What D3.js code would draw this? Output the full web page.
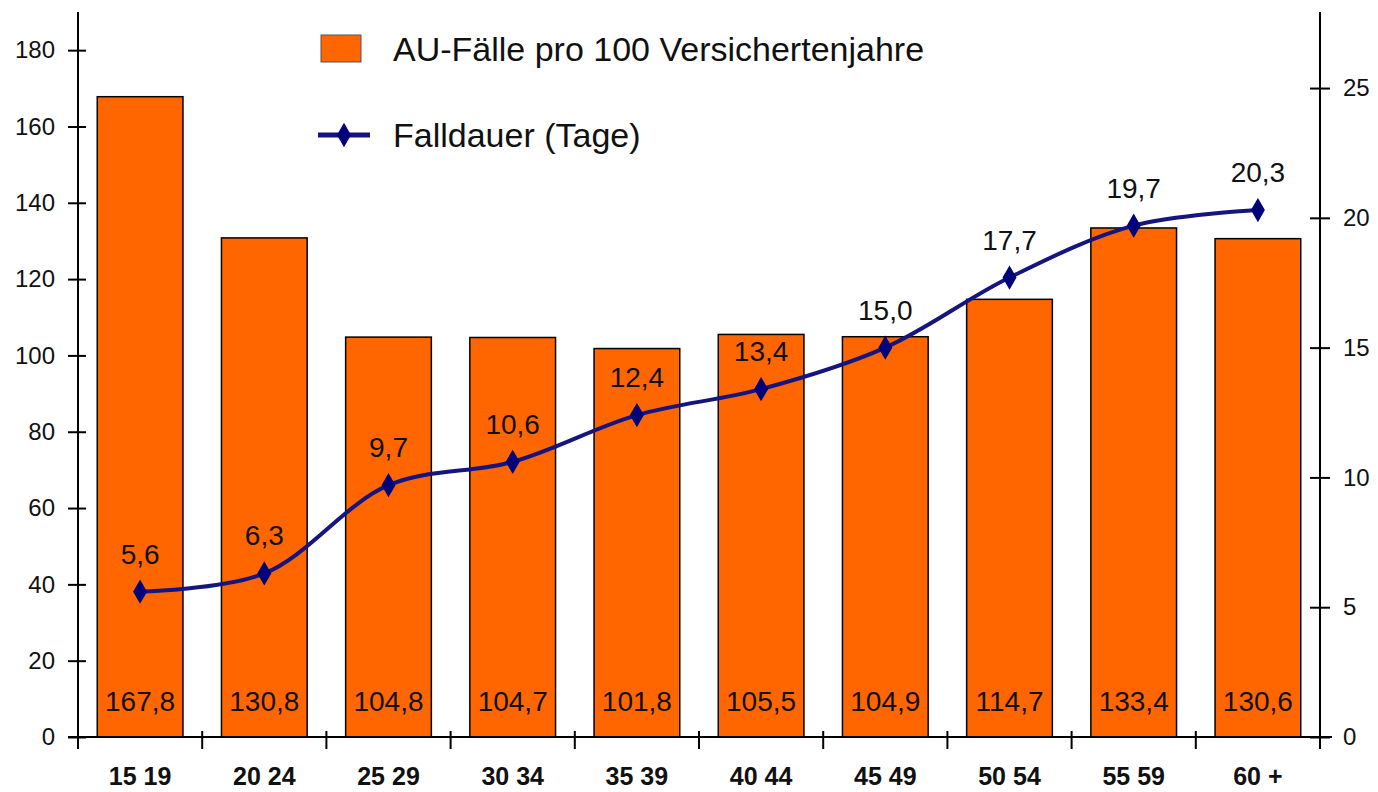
<!DOCTYPE html>
<html>
<head>
<meta charset="utf-8">
<script src="https://cdn.jsdelivr.net/npm/d3@7"></script>
<style>
  body { margin: 0; background: #fff; }
  text { font-family: "Liberation Sans", Arial, sans-serif; fill: #111; }
</style>
</head>
<body>
<div id="chart"></div>
<script>
var categories = ["15 19", "20 24", "25 29", "30 34", "35 39", "40 44", "45 49", "50 54", "55 59", "60 +"];
var cases = [167.8, 130.8, 104.8, 104.7, 101.8, 105.5, 104.9, 114.7, 133.4, 130.6];
var duration = [5.6, 6.3, 9.7, 10.6, 12.4, 13.4, 15.0, 17.7, 19.7, 20.3];
var leftTicks = [0, 20, 40, 60, 80, 100, 120, 140, 160, 180];
var rightTicks = [0, 5, 10, 15, 20, 25];
var legendBar = "AU-Fälle pro 100 Versichertenjahre";
var legendLine = "Falldauer (Tage)";

var fmt = function (v) { return d3.format(".1f")(v).replace(".", ","); };

var width = 1378, height = 792;
var plotLeft = 78, plotRight = 1320, plotTop = 12, plotBottom = 737;

var svg = d3.select("#chart").append("svg")
    .attr("width", width)
    .attr("height", height);

var x = d3.scaleBand()
    .domain(categories)
    .range([plotLeft, plotRight])
    .paddingInner(0.31)
    .paddingOuter(0.155);

var yL = d3.scaleLinear().domain([0, 190]).range([plotBottom, plotTop]);
var yR = d3.scaleLinear().domain([0, 27.93]).range([plotBottom, plotTop]);

// bars
svg.append("g")
    .selectAll("rect")
    .data(cases)
    .join("rect")
    .attr("x", function (d, i) { return x(categories[i]); })
    .attr("y", function (d) { return yL(d); })
    .attr("width", x.bandwidth())
    .attr("height", function (d) { return yL(0) - yL(d); })
    .attr("fill", "#ff6600")
    .attr("stroke", "#000")
    .attr("stroke-width", 1.5);

// bar value labels
svg.append("g")
    .selectAll("text")
    .data(cases)
    .join("text")
    .attr("x", function (d, i) { return x(categories[i]) + x.bandwidth() / 2; })
    .attr("y", yL(0) - 26)
    .attr("text-anchor", "middle")
    .style("font-size", "28px")
    .text(function (d) { return fmt(d); });

// left axis
var axL = svg.append("g")
    .attr("transform", "translate(" + plotLeft + ",0)")
    .call(d3.axisLeft(yL).tickValues(leftTicks).tickSize(0).tickPadding(23));
axL.select(".domain").remove();
axL.selectAll(".tick line").attr("x1", -10).attr("x2", 8).attr("stroke", "#000").attr("stroke-width", 2);
axL.selectAll(".tick text").style("font-size", "24px").attr("fill", "#111");
svg.append("line")
    .attr("x1", plotLeft).attr("x2", plotLeft)
    .attr("y1", plotTop).attr("y2", plotBottom + 10)
    .attr("stroke", "#000").attr("stroke-width", 2);

// right axis
var axR = svg.append("g")
    .attr("transform", "translate(" + plotRight + ",0)")
    .call(d3.axisRight(yR).tickValues(rightTicks).tickSize(0).tickPadding(23));
axR.select(".domain").remove();
axR.selectAll(".tick line").attr("x1", -10).attr("x2", 10).attr("stroke", "#000").attr("stroke-width", 2);
axR.selectAll(".tick text").style("font-size", "24px").attr("fill", "#111");
svg.append("line")
    .attr("x1", plotRight).attr("x2", plotRight)
    .attr("y1", plotTop).attr("y2", plotBottom + 10)
    .attr("stroke", "#000").attr("stroke-width", 2);

// x axis
svg.append("line")
    .attr("x1", plotLeft - 10).attr("x2", plotRight + 12)
    .attr("y1", plotBottom).attr("y2", plotBottom)
    .attr("stroke", "#000").attr("stroke-width", 2);
var step = x.step();
svg.append("g")
    .selectAll("line")
    .data(d3.range(categories.length + 1))
    .join("line")
    .attr("x1", function (i) { return plotLeft + i * step; })
    .attr("x2", function (i) { return plotLeft + i * step; })
    .attr("y1", plotBottom - 6)
    .attr("y2", plotBottom + 12)
    .attr("stroke", "#000").attr("stroke-width", 2);
svg.append("g")
    .selectAll("text")
    .data(categories)
    .join("text")
    .attr("x", function (d) { return x(d) + x.bandwidth() / 2; })
    .attr("y", 785)
    .attr("text-anchor", "middle")
    .style("font-size", "25px")
    .style("font-weight", "bold")
    .text(function (d) { return d; });

// line
var cx = function (d, i) { return x(categories[i]) + x.bandwidth() / 2; };
var line = d3.line()
    .x(cx)
    .y(function (d) { return yR(d); })
    .curve(d3.curveCatmullRom.alpha(0.5));
svg.append("path")
    .datum(duration)
    .attr("d", line)
    .attr("fill", "none")
    .attr("stroke", "#15157f")
    .attr("stroke-width", 4);

var diamond = d3.symbol().type(d3.symbolDiamond).size(170);
svg.append("g")
    .selectAll("path")
    .data(duration)
    .join("path")
    .attr("d", diamond)
    .attr("transform", function (d, i) { return "translate(" + cx(d, i) + "," + yR(d) + ")"; })
    .attr("fill", "#00007a");

svg.append("g")
    .selectAll("text")
    .data(duration)
    .join("text")
    .attr("x", cx)
    .attr("y", function (d) { return yR(d) - 28; })
    .attr("text-anchor", "middle")
    .style("font-size", "28px")
    .text(function (d) { return fmt(d); });

// legend
svg.append("rect")
    .attr("x", 321).attr("y", 35)
    .attr("width", 40).attr("height", 27)
    .attr("fill", "#ff6600")
    .attr("stroke", "#555").attr("stroke-width", 1);
svg.append("text")
    .attr("x", 393).attr("y", 61)
    .style("font-size", "34px")
    .text(legendBar);
svg.append("line")
    .attr("x1", 318).attr("x2", 370)
    .attr("y1", 135).attr("y2", 135)
    .attr("stroke", "#15157f").attr("stroke-width", 5);
svg.append("path")
    .attr("d", diamond)
    .attr("transform", "translate(344,135)")
    .attr("fill", "#00007a");
svg.append("text")
    .attr("x", 393).attr("y", 147)
    .style("font-size", "34px")
    .text(legendLine);
</script>
</body>
</html>
